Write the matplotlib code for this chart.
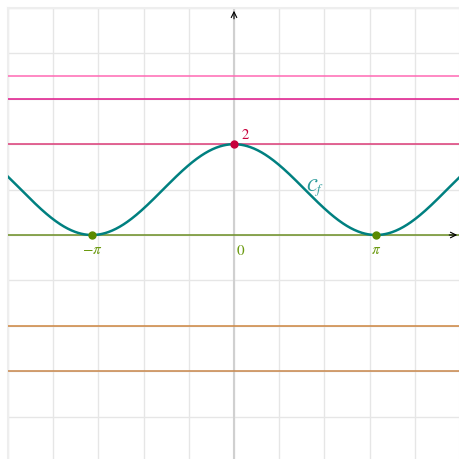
import matplotlib
matplotlib.use("Agg")
import matplotlib.pyplot as plt
import numpy as np

plt.rcParams['mathtext.fontset'] = 'stix'
plt.rcParams['font.family'] = ['Liberation Serif', 'DejaVu Serif']

# window and grid
x_min, x_max = -5, 5
y_min, y_max = -5, 5
grid_ticks = np.arange(-5, 6, 1)

# horizontal reference lines y = k
h_levels = [3.5, 3, 2, -2, -3]
h_colors = ['#ff69b4', '#e0168a', '#dc3c78', '#cd853f', '#c8864a']

# marked points
pts_x = [-np.pi, 0, np.pi]
pts_y = [0, 2, 0]
pts_colors = ['#5a8a00', '#c8003c', '#5a8a00']
pt_labels = ['$-\\pi$', '$0$', '$\\pi$']

# curve f(x) = 1 + cos(x)
xs = np.linspace(x_min, x_max, 600)
ys = 1 + np.cos(xs)

fig = plt.figure(figsize=(4.6, 4.59), dpi=100)
ax = fig.add_axes([8/460, -3/459, 452/460, 454/459])
ax.set_xlim(x_min, x_max)
ax.set_ylim(y_min, y_max)
ax.set_xticks(grid_ticks)
ax.set_yticks(grid_ticks)
ax.grid(True, color='#e6e6e6', linewidth=1)
ax.tick_params(length=0, labelbottom=False, labelleft=False)
for s in ax.spines.values():
    s.set_color('#eeeeee')
    s.set_linewidth(1.5)

# y axis
ax.axvline(0, color='#d0d0d0', linewidth=1.5, zorder=2)
ax.annotate('', xy=(0, y_max), xytext=(0, y_max - 0.3),
            arrowprops=dict(arrowstyle='->', color='black', lw=0.8), zorder=5)

# horizontal lines
for lv, c in zip(h_levels, h_colors):
    ax.axhline(lv, color=c, linewidth=1.1, zorder=3)

# x axis (y = 0)
ax.axhline(0, color='#6b8e23', linewidth=1.1, zorder=3)
ax.annotate('', xy=(x_max, 0), xytext=(x_max - 0.3, 0),
            arrowprops=dict(arrowstyle='->', color='black', lw=0.8), zorder=5)

# curve
ax.plot(xs, ys, color='#008080', linewidth=1.8, zorder=4)
ax.text(1.6, 0.95, '$\\mathcal{C}_f$', color='#2a9a9a', fontsize=13, zorder=6)

# points and labels
for px, py, c in zip(pts_x, pts_y, pts_colors):
    ax.plot(px, py, 'o', color=c, markersize=5, zorder=6)
for px, lab in zip(pts_x, pt_labels):
    dx = 0.15 if px == 0 else 0
    ax.text(px + dx, -0.2, lab, color='#6b9a10', fontsize=11,
            ha='center', va='top', zorder=6)
ax.text(0.15, 2.05, '$2$', color='#c8003c', fontsize=10.5, ha='left', va='bottom', zorder=6)

fig.savefig('out.png', dpi=100)
